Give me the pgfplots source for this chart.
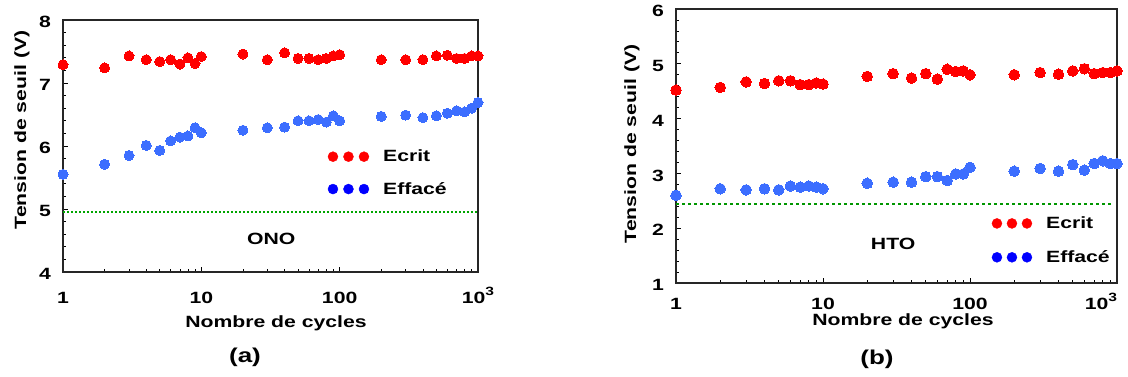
\documentclass[border=0pt]{standalone}
\usepackage{fontspec}
\setmainfont{Liberation Sans}[FakeStretch=1.3]
\usepackage{pgfplots}
\usepackage{pgfplotstable}
\pgfplotsset{compat=1.18}
\definecolor{dred}{RGB}{255,0,0}
\definecolor{dblue}{RGB}{60,110,255}
\definecolor{lblue}{RGB}{0,0,255}
\definecolor{dgreen}{RGB}{0,150,0}
\definecolor{agreen}{RGB}{0,165,0}
\newcommand{\tlf}{\fontsize{16.3}{18}\selectfont\bfseries}
\newcommand{\thr}{10\raisebox{8pt}{\fontsize{12}{12}\selectfont 3}}
\newcommand{\thrb}{\llap{10\raisebox{8pt}{\fontsize{12}{12}\selectfont 3}}}

\pgfplotstableread{
x w e
1 7.29 5.55
2 7.24 5.71
3 7.43 5.85
4 7.37 6.01
5 7.34 5.93
6 7.37 6.08
7 7.30 6.14
8 7.40 6.16
9 7.31 6.29
10 7.42 6.21
20 7.46 6.25
30 7.37 6.29
40 7.48 6.30
50 7.39 6.40
60 7.39 6.40
70 7.37 6.42
80 7.39 6.38
90 7.43 6.48
100 7.45 6.40
200 7.37 6.47
300 7.37 6.49
400 7.37 6.45
500 7.43 6.48
600 7.44 6.52
700 7.39 6.56
800 7.39 6.54
900 7.43 6.60
1000 7.43 6.69
}\ono

\pgfplotstableread{
x w e
1 4.52 2.60
2 4.57 2.72
3 4.67 2.70
4 4.64 2.72
5 4.69 2.70
6 4.69 2.77
7 4.62 2.75
8 4.62 2.77
9 4.65 2.75
10 4.63 2.72
20 4.77 2.82
30 4.82 2.84
40 4.74 2.84
50 4.82 2.94
60 4.72 2.94
70 4.90 2.87
80 4.86 2.99
90 4.87 2.99
100 4.80 3.11
200 4.80 3.04
300 4.84 3.09
400 4.81 3.04
500 4.87 3.16
600 4.91 3.06
700 4.82 3.18
800 4.84 3.23
900 4.84 3.18
1000 4.87 3.18
}\hto

\pgfplotstableread{
x v
1 4.96
1000 4.96
}\refa

\pgfplotstableread{
x v
1 2.44
950 2.44
}\refb

\begin{document}
\begin{tikzpicture}[x=1pt,y=1pt]
\path[use as bounding box] (0,0) rectangle (1128,376);

\begin{semilogxaxis}[
  scale only axis, anchor=south west, clip=false,
  at={(63pt,104pt)}, width=415pt, height=252pt,
  xmin=1, xmax=1000, ymin=4, ymax=8,
  xtick={1,10,100,1000},
  xticklabels={1,10,100,\thr},
  ytick={4,5,6,7,8}, minor y tick num=4,
  xtick pos=bottom, ytick pos=left,
  tick align=inside,
  major tick length=5pt, minor tick length=3.5pt,
  tick style={black, line width=0.8pt},
  axis line style={line width=1.2pt, black!85},
  tick label style={font=\tlf},
  /pgf/number format/assume math mode=true,
  yticklabel style={anchor=east, inner sep=0pt, xshift=-12pt, yshift=-2pt},
  xticklabel style={anchor=base, inner sep=0pt, yshift=-31pt},
  legend cell align=left,
  legend style={draw=none, fill=none, inner sep=0pt, outer sep=0pt,
    column sep=12pt, row sep=15pt, font=\tlf,
    at={(0.638,0.492)}, anchor=north west},
]
\addplot[draw=agreen, color=agreen, line width=2pt, dash pattern=on 2pt off 2pt, forget plot]
  table[x=x, y=v] {\refa};
\addplot[color=dred, only marks, mark=*, mark size=5pt, mark options={draw=dred, fill=dred, line width=0pt},
  legend image code/.code={\fill[dred] (0pt,0pt) circle[radius=5pt] (15.5pt,0pt) circle[radius=5pt] (31pt,0pt) circle[radius=5pt];}]
  table[x=x, y=w] {\ono};
\addlegendentry{\tlf Ecrit}
\addplot[color=dblue, only marks, mark=*, mark size=5pt, mark options={draw=dblue, fill=dblue, line width=0pt},
  legend image code/.code={\fill[lblue] (0pt,0pt) circle[radius=5pt] (15.5pt,0pt) circle[radius=5pt] (31pt,0pt) circle[radius=5pt];}]
  table[x=x, y=e] {\ono};
\addlegendentry{\tlf Effacé}
\node[font=\tlf] at (axis cs:32,4.52) {ONO};
\end{semilogxaxis}

\begin{semilogxaxis}[
  scale only axis, anchor=south west, clip=false,
  at={(676pt,93pt)}, width=441pt, height=274pt,
  xmin=1, xmax=1000, ymin=1, ymax=6,
  xtick={1,10,100,1000},
  xticklabels={1,10,100,\thrb},
  ytick={1,2,3,4,5,6}, minor y tick num=4,
  xtick pos=bottom, ytick pos=left,
  tick align=inside,
  major tick length=5pt, minor tick length=3.5pt,
  tick style={black, line width=0.8pt},
  axis line style={line width=1.2pt, black!85},
  tick label style={font=\tlf},
  /pgf/number format/assume math mode=true,
  yticklabel style={anchor=east, inner sep=0pt, xshift=-12pt, yshift=-2pt},
  xticklabel style={anchor=base, inner sep=0pt, yshift=-26pt},
  legend cell align=left,
  legend style={draw=none, fill=none, inner sep=0pt, outer sep=0pt,
    column sep=12pt, row sep=16.5pt, font=\tlf,
    at={(0.716,0.249)}, anchor=north west},
]
\addplot[color=dgreen, line width=1.8pt, dash pattern=on 3pt off 3pt, forget plot]
  table[x=x, y=v] {\refb};
\addplot[color=dred, only marks, mark=*, mark size=5.3pt, mark options={draw=dred, fill=dred, line width=0pt},
  legend image code/.code={\fill[dred] (0pt,0pt) circle[radius=5pt] (15pt,0pt) circle[radius=5pt] (30pt,0pt) circle[radius=5pt];}]
  table[x=x, y=w] {\hto};
\addlegendentry{\tlf Ecrit}
\addplot[color=dblue, only marks, mark=*, mark size=5.3pt, mark options={draw=dblue, fill=dblue, line width=0pt},
  legend image code/.code={\fill[lblue] (0pt,0pt) circle[radius=5pt] (15pt,0pt) circle[radius=5pt] (30pt,0pt) circle[radius=5pt];}]
  table[x=x, y=e] {\hto};
\addlegendentry{\tlf Effacé}
\node[font=\tlf] at (axis cs:30,1.71) {HTO};
\end{semilogxaxis}

\node[font=\tlf, rotate=90] at (22,246) {Tension de seuil (V)};
\node[font=\tlf] at (276,53) {Nombre de cycles};
\node[font=\fontsize{20}{22}\selectfont\bfseries] at (245,19) {(a)};
\node[font=\tlf, rotate=90] at (632,232) {Tension de seuil (V)};
\node[font=\tlf] at (903,55) {Nombre de cycles};
\node[font=\fontsize{20}{22}\selectfont\bfseries] at (877,17) {(b)};
\end{tikzpicture}
\end{document}
